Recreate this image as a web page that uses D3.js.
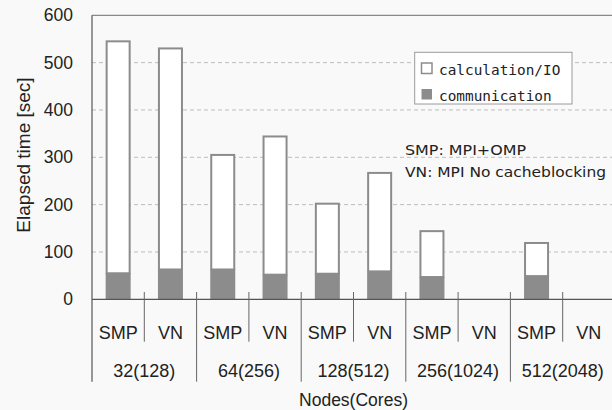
<!DOCTYPE html>
<html>
<head>
<meta charset="utf-8">
<script src="https://cdn.jsdelivr.net/npm/d3@7"></script>
<style>
  body { margin: 0; background: #f9f9f9; }
  svg { display: block; }
</style>
</head>
<body>
<script>
// data
const groups = ['32(128)', '64(256)', '128(512)', '256(1024)', '512(2048)'];
const modes = ['SMP', 'VN'];
const smpComm = [55, 63, 54, 47, 49];
const smpCalc = [490, 242, 148, 97, 70];
const vnComm = [63, 52, 59, null, null];
const vnCalc = [467, 292, 208, null, null];
const yTicks = [0, 100, 200, 300, 400, 500, 600];

const w = 612;
const h = 410;
const padLeft = 92, padRight = 615, padTop = 15.3, padBottom = 299.3;
const font = '"Liberation Sans", Arial, sans-serif';

const rows = [];
groups.forEach((g, i) => {
  rows.push({ key: g + '-SMP', group: g, mode: modes[0], comm: smpComm[i], calc: smpCalc[i] });
  rows.push({ key: g + '-VN', group: g, mode: modes[1], comm: vnComm[i], calc: vnCalc[i] });
});

const svg = d3.select('body').append('svg').attr('width', w).attr('height', h);

const xScale = d3.scaleBand()
  .domain(rows.map((d) => d.key))
  .range([padLeft, padRight])
  .paddingInner(0.56)
  .paddingOuter(0.28);
const step = xScale.step();

const yScale = d3.scaleLinear().domain([0, 600]).range([padBottom, padTop]);

// gridlines
svg.append('g')
  .selectAll('line')
  .data(yTicks.filter((t) => t > 0 && t < 600))
  .enter()
  .append('line')
  .attr('x1', padLeft).attr('x2', padRight)
  .attr('y1', (d) => yScale(d)).attr('y2', (d) => yScale(d))
  .attr('stroke', '#bdbdbd')
  .attr('stroke-dasharray', '4,3')
  .attr('stroke-width', 1);

// top border
svg.append('line')
  .attr('x1', padLeft).attr('x2', padRight)
  .attr('y1', yScale(600)).attr('y2', yScale(600))
  .attr('stroke', '#8a8a8a').attr('stroke-width', 1.2);

// bars
const bars = svg.append('g').selectAll('g')
  .data(rows.filter((d) => d.comm != null))
  .enter()
  .append('g');

bars.append('rect')
  .attr('x', (d) => xScale(d.key))
  .attr('width', xScale.bandwidth())
  .attr('y', (d) => yScale(d.comm + d.calc))
  .attr('height', (d) => yScale(d.comm) - yScale(d.comm + d.calc))
  .attr('fill', '#ffffff')
  .attr('stroke', '#8c8c8c')
  .attr('stroke-width', 2);

bars.append('rect')
  .attr('x', (d) => xScale(d.key) - 1)
  .attr('width', xScale.bandwidth() + 2)
  .attr('y', (d) => yScale(d.comm))
  .attr('height', (d) => yScale(0) - yScale(d.comm))
  .attr('fill', '#8c8c8c');

// y axis
const yAxis = d3.axisLeft(yScale).tickValues(yTicks).tickSize(0).tickPadding(19);
svg.append('g')
  .attr('transform', 'translate(' + padLeft + ',0)')
  .call(yAxis)
  .call((g) => g.select('.domain').remove())
  .selectAll('text')
  .attr('font-family', font)
  .attr('font-size', 17.5)
  .attr('fill', '#222');

svg.append('line')
  .attr('x1', padLeft).attr('x2', padLeft)
  .attr('y1', padTop).attr('y2', 381.7)
  .attr('stroke', '#555').attr('stroke-width', 1.2);

svg.append('line')
  .attr('x1', padLeft).attr('x2', padRight)
  .attr('y1', padBottom).attr('y2', padBottom)
  .attr('stroke', '#555').attr('stroke-width', 1.2);

// category dividers
rows.forEach((d, i) => {
  if (i === 0) return;
  const x = xScale(d.key) - (step - xScale.bandwidth()) / 2;
  svg.append('line')
    .attr('x1', x).attr('x2', x)
    .attr('y1', 292)
    .attr('y2', d.mode === 'SMP' ? 381.7 : 341.7)
    .attr('stroke', '#666').attr('stroke-width', 1);
});

// sub labels
svg.append('g').selectAll('text')
  .data(rows)
  .enter()
  .append('text')
  .attr('x', (d) => xScale(d.key) + xScale.bandwidth() / 2)
  .attr('y', 338.5)
  .attr('text-anchor', 'middle')
  .attr('font-family', font)
  .attr('font-size', 18)
  .attr('fill', '#222')
  .text((d) => d.mode);

// group labels
svg.append('g').selectAll('text')
  .data(groups)
  .enter()
  .append('text')
  .attr('x', (g) => xScale(g + '-VN') - (step - xScale.bandwidth()) / 2)
  .attr('y', 377)
  .attr('text-anchor', 'middle')
  .attr('font-family', font)
  .attr('font-size', 18)
  .attr('fill', '#222')
  .text((g) => g);

// axis titles
svg.append('text')
  .attr('transform', 'translate(30,' + 155 + ') rotate(-90)')
  .attr('text-anchor', 'middle')
  .attr('font-family', font)
  .attr('font-size', 19)
  .attr('fill', '#222')
  .text('Elapsed time [sec]');

svg.append('text')
  .attr('x', (padLeft + padRight) / 2)
  .attr('y', 406)
  .attr('text-anchor', 'middle')
  .attr('font-family', font)
  .attr('font-size', 17.5)
  .attr('fill', '#222')
  .text('Nodes(Cores)');

// legend
const legend = svg.append('g');
legend.append('rect')
  .attr('x', 414.7).attr('y', 52.3)
  .attr('width', 157.3).attr('height', 51.7)
  .attr('fill', '#ffffff')
  .attr('stroke', '#9a9a9a').attr('stroke-width', 1);

const legendItems = ['calculation/IO', 'communication'];
legend.selectAll('rect.sw')
  .data(legendItems)
  .enter()
  .append('rect')
  .attr('class', 'sw')
  .attr('x', 421.5)
  .attr('y', (d, i) => 63 + i * 26)
  .attr('width', 10.5).attr('height', 10.5)
  .attr('fill', (d, i) => (i === 0 ? '#ffffff' : '#8c8c8c'))
  .attr('stroke', '#8c8c8c').attr('stroke-width', (d, i) => (i === 0 ? 1.5 : 0));

legend.selectAll('text')
  .data(legendItems)
  .enter()
  .append('text')
  .attr('x', 439)
  .attr('y', (d, i) => 74.5 + i * 26)
  .attr('font-family', '"DejaVu Sans Mono", monospace')
  .attr('font-size', 14.4)
  .attr('fill', '#222')
  .text((d) => d);

// notes
svg.append('text')
  .attr('x', 405).attr('y', 154.5)
  .attr('font-family', '"DejaVu Sans", sans-serif').attr('font-size', 14.6).attr('fill', '#222')
  .attr('textLength', 121).attr('lengthAdjust', 'spacingAndGlyphs')
  .text('SMP: MPI+OMP');
svg.append('text')
  .attr('x', 405).attr('y', 176.5)
  .attr('font-family', '"DejaVu Sans", sans-serif').attr('font-size', 14.6).attr('fill', '#222')
  .attr('textLength', 201).attr('lengthAdjust', 'spacingAndGlyphs')
  .text('VN: MPI No cacheblocking');
</script>
</body>
</html>
